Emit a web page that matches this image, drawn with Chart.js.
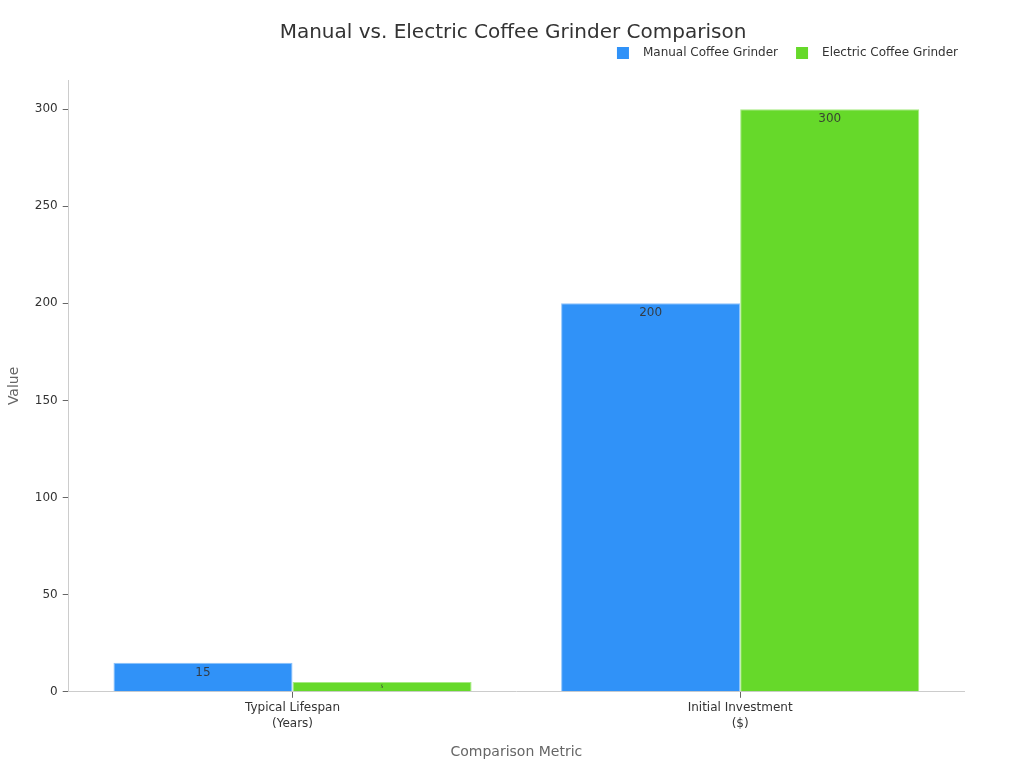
<!DOCTYPE html>
<html><head><meta charset="utf-8">
<script src="https://cdn.jsdelivr.net/npm/chart.js@4.4.0/dist/chart.umd.min.js"></script>
<style>html,body{margin:0;padding:0;background:#fff}#w{width:1024px;height:768px}</style>
</head><body><div id="w"><canvas id="c"></canvas></div>
<script>
const categories = [["Typical Lifespan","(Years)"],["Initial Investment","($)"]];
const manualValues = [15, 200];
const electricValues = [5, 300];
const seriesNames = ["Manual Coffee Grinder","Electric Coffee Grinder"];
const seriesColors = ['#3092F8','#66D92A'];
const yTicks = [0,50,100,150,200,250,300];
const chartTitle = 'Manual vs. Electric Coffee Grinder Comparison';

Chart.defaults.font.family = "'DejaVu Sans', sans-serif";
Chart.defaults.color = '#333';

const labelPlugin = {
  id:'lbl',
  afterDatasetsDraw(chart){
    const ctx = chart.ctx;
    chart.data.datasets.forEach((ds,i)=>{
      const meta = chart.getDatasetMeta(i);
      meta.data.forEach((bar,j)=>{
        const v = ds.data[j];
        const h = Math.abs(bar.base - bar.y);
        ctx.save();
        ctx.fillStyle = 'rgba(51,51,51,0.9)';
        ctx.textAlign='center';
        ctx.textBaseline='middle';
        if (h < 16) {
          const fs = Math.max(3, h*0.5);
          ctx.font = fs + "px 'DejaVu Sans'";
          ctx.fillText(String(v), bar.x, bar.y + h/2);
        } else {
          ctx.font = "12px 'DejaVu Sans'";
          ctx.fillText(String(v), bar.x, bar.y + 10);
        }
        ctx.restore();
      });
    });
  }
};

const headerPlugin = {
  id:'hdr',
  afterDraw(chart){
    const ctx = chart.ctx;
    ctx.save();
    ctx.fillStyle = '#333';
    ctx.textBaseline = 'middle';
    ctx.textAlign = 'center';
    ctx.font = "20px 'DejaVu Sans'";
    ctx.fillText(chartTitle, chart.width/2 + 1, 33);
    // legend, right aligned
    ctx.font = "12px 'DejaVu Sans'";
    ctx.textAlign = 'left';
    const right = 958, box = 12, gapBoxText = 14, gapItems = 18, y = 53;
    const widths = seriesNames.map(n => ctx.measureText(n).width);
    let total = 0;
    widths.forEach((w,i)=>{ total += box + gapBoxText + w + (i < widths.length-1 ? gapItems : 0); });
    let x = right - total;
    seriesNames.forEach((n,i)=>{
      ctx.fillStyle = seriesColors[i];
      ctx.fillRect(x, y - box/2, box, box);
      ctx.fillStyle = '#333';
      ctx.fillText(n, x + box + gapBoxText, y);
      x += box + gapBoxText + widths[i] + gapItems;
    });
    ctx.restore();
  }
};

new Chart(document.getElementById('c'), {
  type:'bar',
  data:{
    labels: categories,
    datasets:[
      {label:seriesNames[0], data:manualValues, backgroundColor:seriesColors[0], borderColor:'#8cc2fb', borderWidth:1, categoryPercentage:0.8, barPercentage:1},
      {label:seriesNames[1], data:electricValues, backgroundColor:seriesColors[1], borderColor:'#a6ea82', borderWidth:1, categoryPercentage:0.8, barPercentage:1}
    ]
  },
  options:{
    responsive:true, maintainAspectRatio:false, animation:false,
    layout:{padding:{left:2,right:60,top:80,bottom:3}},
    plugins:{
      title:{display:false},
      legend:{display:false},
      tooltip:{enabled:false}
    },
    scales:{
      x:{
        grid:{display:true, offset:false, drawOnChartArea:false, drawTicks:true, tickLength:6, tickColor:'#666'},
        border:{display:true, color:'#ccc'},
        ticks:{font:{size:12, lineHeight:1.35}, color:'#333', padding:2},
        title:{display:true, text:'Comparison Metric', font:{size:14}, color:'#666', padding:{top:10}}
      },
      y:{
        min:0, max:315,
        grid:{display:true, drawOnChartArea:false, drawTicks:true, tickLength:6, tickColor:'#666'},
        border:{display:true, color:'#ccc'},
        ticks:{stepSize:50, font:{size:12}, color:'#333', padding:5},
        afterBuildTicks(axis){ axis.ticks = yTicks.map(v=>({value:v})); },
        title:{display:true, text:'Value', font:{size:14}, color:'#666', padding:{bottom:7}}
      }
    }
  },
  plugins:[labelPlugin, headerPlugin]
});
</script></body></html>
